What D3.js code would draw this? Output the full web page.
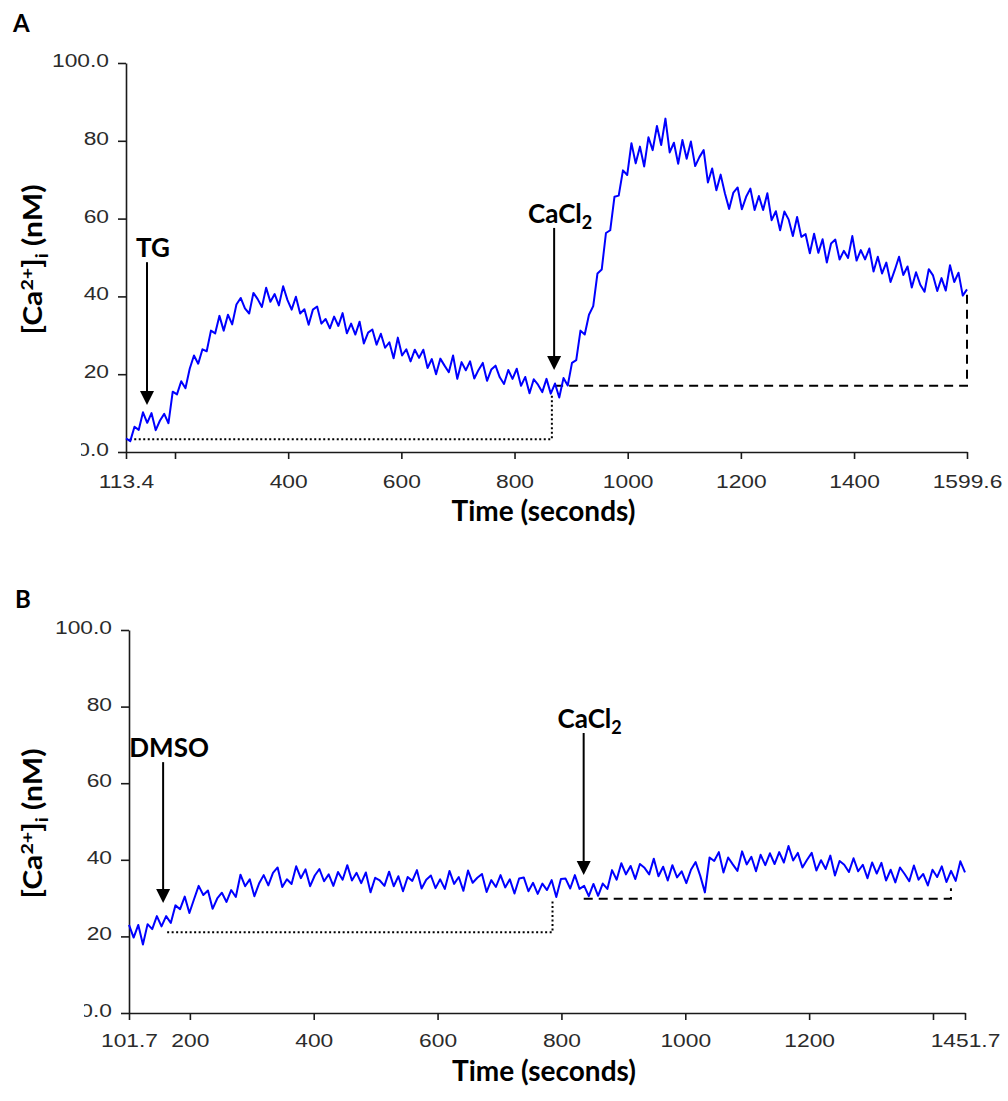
<!DOCTYPE html>
<html>
<head>
<meta charset="utf-8">
<script src="https://cdn.jsdelivr.net/npm/d3@7"></script>
<style>
  body { margin: 0; background: #fff; }
  .tick text { font-family: "Liberation Sans", Arial, sans-serif; font-size: 19px; fill: #2b2b2b; }
  .lbl { font-family: Lato, "Open Sans", sans-serif; font-weight: bold; fill: #000; }
</style>
</head>
<body>
<svg id="chart" width="1008" height="1101"></svg>
<script>
// ---- data ----
// panel A: thapsigargin (TG), then CaCl2
let timeRangeA = [113.4, 1599.6];
let caA = [
  3.5, 2.8, 6.5, 5.7, 10.2, 7.5, 10, 5.6, 8.1, 9.8,
  7.4, 15.5, 14.8, 18.2, 16.4, 21.4, 24.8, 22.7, 26.4, 25.9,
  31.2, 30.5, 35, 31.2, 35.3, 32.8, 37.9, 39.6, 36.9, 35.6,
  40.9, 39.3, 37.3, 42.2, 38.6, 40.6, 37.7, 42.6, 39.1, 36.6,
  39.9, 35.6, 36.7, 32.7, 36.6, 37.4, 33, 34.2, 31.8, 34.8,
  32.4, 35.7, 30.5, 33, 30.2, 33.5, 27.9, 30.7, 31.5, 27.6,
  30.4, 26.8, 28.2, 24.1, 29.4, 24.8, 26.4, 23.3, 26.3, 24.2,
  26.3, 21.6, 23.9, 20, 24, 22.2, 20.5, 24.8, 18.8, 23.1,
  21, 23.3, 18.9, 21.1, 22.9, 18.3, 21.2, 22.2, 19.2, 17.5,
  21.1, 18.8, 21.4, 17, 19.3, 15.1, 18.7, 17.3, 15.4, 18.8,
  15, 17.6, 14, 19, 17.1, 22.9, 23.6, 31.2, 30.2, 35.3,
  37.5, 45.9, 46.9, 56.3, 57, 65.6, 65.9, 72.4, 71.2, 79.4,
  74.2, 78.5, 73.4, 80.9, 77.6, 83.8, 78.9, 85.7, 77, 79.5,
  74.1, 80.2, 75.4, 79.8, 73.5, 75.8, 77.6, 69.3, 72.9, 67.3,
  71.3, 66.5, 62.5, 66.7, 68, 62.4, 65.6, 67.7, 62.2, 65.8,
  62.2, 66.5, 59.6, 61.9, 57, 61.8, 59.8, 55.5, 60.4, 55.3,
  56, 51.1, 56.1, 51.2, 54.7, 48.7, 53.6, 54.6, 49.5, 51.7,
  49.9, 55.5, 49.2, 51.9, 49.5, 52.3, 46.4, 50.2, 45.9, 48.7,
  43.7, 46.8, 50.2, 45.5, 47.7, 42.3, 46.2, 43, 41.2, 47,
  45.4, 41.4, 44.7, 41.5, 48, 43.7, 46.1, 40.2, 41.8
];
let xTicksA = [113.4, 200, 400, 600, 800, 1000, 1200, 1400, 1599.6];
let xTickLabelsA = ["113.4", "", "400", "600", "800", "1000", "1200", "1400", "1599.6"];
let arrowsA = [
  { label: "TG", sub: "", t: 150.5, tip: 12.1, tail: 48.8 },
  { label: "CaCl", sub: "2", t: 870, tip: 21.1, tail: 57.6 }
];
let dottedA = [[120, 3.3], [866, 3.3], [866, 14.6]];
let dashedA = [[870, 17], [1599.6, 17], [1599.6, 40.9]];

// panel B: DMSO, then CaCl2
let timeRangeB = [101.7, 1451.7];
let caB = [
  23, 19.7, 23, 17.9, 23.2, 21.9, 25.3, 22.6, 25.3, 23.5,
  28.1, 27.1, 30.4, 26.1, 29.7, 33.2, 30.8, 32, 27.2, 29.9,
  31.4, 29, 32.1, 30.3, 36.1, 33.1, 34.9, 30.5, 33.8, 36,
  33.3, 36.6, 38, 32.9, 34.9, 33.7, 38.3, 35.2, 37.5, 33.1,
  35.9, 37.6, 34.4, 36.2, 33.2, 36.8, 34.8, 38.6, 34.6, 36.6,
  33.9, 36.7, 31.5, 35.3, 34.6, 33.2, 36.9, 33.1, 35.7, 31.8,
  35.5, 34.5, 37.3, 32.5, 34.8, 35.9, 32.6, 34.9, 32.4, 37.1,
  33.7, 35.5, 31.9, 37.2, 34, 35.3, 36.3, 31.6, 34.7, 32.9,
  36, 32.8, 34.9, 31.2, 35.1, 35.4, 31.8, 34, 31.1, 33.8,
  32.1, 34.7, 30.3, 35, 35.1, 32.5, 36, 32.4, 33.2, 30.5,
  33.7, 30.6, 33.8, 32.4, 37.3, 34.8, 39.1, 36.2, 38.4, 35,
  38.9, 37.9, 36.2, 40.3, 35.7, 38.2, 34.6, 38.6, 35.4, 37,
  33.9, 37.4, 39.4, 35.8, 31.5, 40.6, 39.7, 42, 36.7, 40.6,
  38.8, 37.1, 42.2, 38.8, 40.8, 37, 41.3, 38.6, 41.7, 38.9,
  42, 39.3, 43.6, 39.8, 41.8, 38, 40, 41.8, 37.2, 39.9,
  37.6, 41.1, 35.9, 39.7, 38.7, 36.8, 40.4, 37, 38.7, 35.2,
  39.3, 36.4, 39.2, 34.6, 37.4, 34.1, 38, 36.3, 34.4, 38.5,
  34.8, 36.3, 33.3, 37.4, 35.5, 38.3, 34.2, 37.1, 34.5, 39.6,
  36.7
];
let xTicksB = [101.7, 200, 400, 600, 800, 1000, 1200, 1400, 1451.7];
let xTickLabelsB = ["101.7", "200", "400", "600", "800", "1000", "1200", "", "1451.7"];
let arrowsB = [
  { label: "DMSO", sub: "", t: 156.8, tip: 28.7, tail: 65.5 },
  { label: "CaCl", sub: "2", t: 835.9, tip: 36, tail: 73.1 }
];
let dottedB = [[163.3, 21.1], [785.6, 21.1], [785.6, 29.5]];
let dashedB = [[836, 29.8], [1429, 29.8], [1429, 32.6]];

// shared y axis
let yTicks = [0, 20, 40, 60, 80, 100];
let yTickLabels = ["0.0", "20", "40", "60", "80", "100.0"];

let svg = d3.select("#chart");

drawPanel({
  name: "A", nameX: 13, nameY: 32,
  left: 126, right: 967, top: 63, bottom: 452,
  labelOffset: 36, titleOffset: 69,
  range: timeRangeA, values: caA,
  xTicks: xTicksA, xLabels: xTickLabelsA,
  arrows: arrowsA, dotted: dottedA, dashed: dashedA
});

drawPanel({
  name: "B", nameX: 15, nameY: 608,
  left: 129, right: 965, top: 630, bottom: 1013,
  labelOffset: 34, titleOffset: 68,
  range: timeRangeB, values: caB,
  xTicks: xTicksB, xLabels: xTickLabelsB,
  arrows: arrowsB, dotted: dottedB, dashed: dashedB
});

function drawPanel(p) {
  let x = d3.scaleLinear().domain(p.range).range([p.left, p.right]);
  let y = d3.scaleLinear().domain([0, 100]).range([p.bottom, p.top]);
  let n = p.values.length;
  let times = d3.range(n).map(i => p.range[0] + i * (p.range[1] - p.range[0]) / (n - 1));

  let g = svg.append("g");

  // x axis
  let gx = g.append("g")
    .attr("transform", "translate(0," + p.bottom + ")")
    .call(d3.axisBottom(x)
      .tickValues(p.xTicks)
      .tickFormat((d, i) => p.xLabels[i])
      .tickSizeInner(7)
      .tickSizeOuter(0));
  gx.selectAll("text")
    .attr("y", p.labelOffset).attr("dy", 0)
    .attr("transform", "scale(1.2,1)");

  // y axis
  let gy = g.append("g")
    .attr("transform", "translate(" + p.left + ",0)")
    .call(d3.axisLeft(y)
      .tickValues(yTicks)
      .tickFormat((d, i) => yTickLabels[i])
      .tickSizeInner(8)
      .tickSizeOuter(0));
  gy.selectAll("text")
    .attr("x", -17 / 1.2).attr("dy", "0.18em")
    .attr("transform", "scale(1.2,1)");

  g.selectAll(".domain, .tick line")
    .attr("stroke", "#1a1a1a")
    .attr("stroke-width", 1.6);

  // the bottom label is cut on its left side in the original
  g.append("rect")
    .attr("x", 0).attr("y", p.bottom - 14)
    .attr("width", p.left - 45).attr("height", 26)
    .attr("fill", "#fff");

  // axis titles
  g.append("text")
    .attr("class", "lbl")
    .attr("x", (p.left + p.right) / 2 - 3)
    .attr("y", p.bottom + p.titleOffset)
    .attr("text-anchor", "middle")
    .style("font-size", "28px")
    .text("Time (seconds)");

  let yt = g.append("text")
    .attr("class", "lbl")
    .attr("transform", "translate(42," + (y(50) + 2) + ") rotate(-90)")
    .attr("text-anchor", "middle")
    .attr("textLength", 150)
    .attr("lengthAdjust", "spacingAndGlyphs")
    .style("font-size", "26px");
  yt.append("tspan").text("[Ca");
  yt.append("tspan").attr("dy", -9).style("font-size", "17px").text("2+");
  yt.append("tspan").attr("dy", 9).text("]");
  yt.append("tspan").attr("dy", 6).style("font-size", "17px").text("i");
  yt.append("tspan").attr("dy", -6).text(" (nM)");

  // panel letter
  g.append("text")
    .attr("class", "lbl")
    .attr("x", p.nameX).attr("y", p.nameY)
    .style("font-size", "24px")
    .text(p.name);

  // reference lines
  let refLine = d3.line().x(d => x(d[0])).y(d => y(d[1]));
  g.append("path")
    .attr("d", refLine(p.dotted))
    .attr("fill", "none").attr("stroke", "#000")
    .attr("stroke-width", 2).attr("stroke-dasharray", "2,2.5");
  g.append("path")
    .attr("d", refLine(p.dashed))
    .attr("fill", "none").attr("stroke", "#000")
    .attr("stroke-width", 2).attr("stroke-dasharray", "9,6");

  // calcium trace
  let trace = d3.line()
    .x((d, i) => x(times[i]))
    .y(d => y(d));
  g.append("path")
    .attr("d", trace(p.values))
    .attr("fill", "none")
    .attr("stroke", "#0000ff")
    .attr("stroke-width", 2)
    .attr("stroke-linejoin", "round");

  // stimulus arrows
  p.arrows.forEach(function(a) {
    let ax = x(a.t), tipY = y(a.tip), tailY = y(a.tail);
    g.append("line")
      .attr("x1", ax).attr("x2", ax)
      .attr("y1", tailY).attr("y2", tipY - 12)
      .attr("stroke", "#000").attr("stroke-width", 2);
    g.append("path")
      .attr("d", "M" + (ax - 7) + "," + (tipY - 14) + "L" + (ax + 7) + "," + (tipY - 14) + "L" + ax + "," + tipY + "Z")
      .attr("fill", "#000");
    let t = g.append("text")
      .attr("class", "lbl")
      .attr("x", ax + 6).attr("y", tailY - 5)
      .attr("text-anchor", "middle")
      .style("font-size", "26px");
    t.append("tspan").text(a.label);
    if (a.sub) {
      t.append("tspan").attr("dy", 6).style("font-size", "18px").text(a.sub);
    }
  });
}
</script>
</body>
</html>
